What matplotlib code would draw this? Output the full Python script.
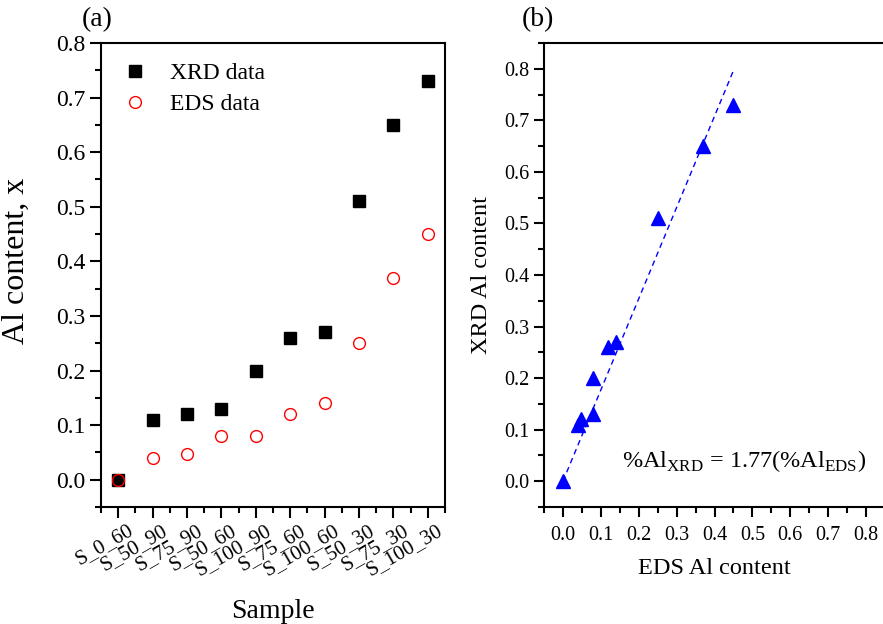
import matplotlib
matplotlib.use("Agg")
import matplotlib.pyplot as plt
import numpy as np
from matplotlib.ticker import MultipleLocator, FormatStrFormatter
from matplotlib.transforms import ScaledTranslation

plt.rcParams['font.family'] = ['Liberation Serif', 'DejaVu Serif']
plt.rcParams['mathtext.fontset'] = 'custom'
plt.rcParams['mathtext.rm'] = 'Liberation Serif'

samples = ["S_0_60", "S_50_90", "S_75_90", "S_50_60", "S_100_90",
           "S_75_60", "S_100_60", "S_50_30", "S_75_30", "S_100_30"]
xrd = [0.0, 0.11, 0.12, 0.13, 0.20, 0.26, 0.27, 0.51, 0.65, 0.73]
eds = [0.0, 0.04, 0.047, 0.08, 0.08, 0.12, 0.14, 0.25, 0.37, 0.45]
slope = 1.77
fit_x = [0.0, 0.45]

W, H = 883, 624
fig = plt.figure(figsize=(W/100, H/100), dpi=100)

def box(l, t, r, b):
    return [l/W, 1 - b/H, (r-l)/W, (b-t)/H]

# Panel (a)
ax1 = fig.add_axes(box(101, 43, 445, 507))
xi = np.arange(len(samples))
ax1.plot(xi, xrd, 's', color='black', markersize=8.5, label='XRD data', zorder=3)
ax1.plot(xi, eds, 'o', mfc='none', mec='red', markersize=8.5, mew=1.0, label='EDS data', zorder=4)
ax1.set_xlim(-0.5, 9.5)
ax1.set_ylim(-0.05, 0.8)
ax1.set_xticks(xi)
ax1.set_xticklabels(samples, rotation=30, ha='right', rotation_mode='anchor', fontsize=15)
ax1.xaxis.set_minor_locator(MultipleLocator(0.5))
ax1.yaxis.set_major_locator(MultipleLocator(0.1))
ax1.yaxis.set_minor_locator(MultipleLocator(0.05))
ax1.tick_params(axis='both', which='major', direction='out', length=8, width=1.5, labelsize=17)
ax1.tick_params(axis='x', which='major', labelsize=15, pad=2)
ax1.tick_params(axis='both', which='minor', direction='out', length=4, width=1.5)
ax1.yaxis.set_major_formatter(FormatStrFormatter('%.1f'))
for s in ax1.spines.values():
    s.set_linewidth(1.5)
ax1.set_ylabel('Al content, x', fontsize=23)
ax1.yaxis.set_label_coords(-0.205, 0.53)
ax1.set_xlabel('Sample', fontsize=20, labelpad=14)
leg = ax1.legend(loc='upper left', frameon=False, fontsize=17, handlelength=1.0,
                 handletextpad=1.0, bbox_to_anchor=(0.064, 0.958), borderaxespad=0,
                 borderpad=0, labelspacing=0.4)
fig.text(97/W, 1 - 20/H, '(a)', fontsize=20, ha='center', va='center')

# Panel (b)
ax2 = fig.add_axes(box(544, 43, 885, 507))
ax2.plot(eds, xrd, '^', color='blue', markersize=9.5, zorder=3)
fx = np.array(fit_x)
ax2.plot(fx, slope*fx, '--', color='blue', lw=1.0, dashes=(4, 3))
ax2.set_xlim(-0.05, 0.85)
ax2.set_ylim(-0.05, 0.85)
ax2.xaxis.set_minor_locator(MultipleLocator(0.05))
ax2.yaxis.set_minor_locator(MultipleLocator(0.05))
ax2.set_xticks(np.round(np.arange(0, 0.81, 0.1), 1))
ax2.set_yticks(np.round(np.arange(0, 0.81, 0.1), 1))
ax2.xaxis.set_major_formatter(FormatStrFormatter('%.1f'))
ax2.yaxis.set_major_formatter(FormatStrFormatter('%.1f'))
ax2.tick_params(axis='both', which='major', direction='out', length=7, width=1.5, labelsize=14.5)
ax2.tick_params(axis='x', which='major', pad=7)
ax2.tick_params(axis='both', which='minor', direction='out', length=4, width=1.5)
for s in ax2.spines.values():
    s.set_linewidth(1.5)
ax2.set_ylabel('XRD Al content', fontsize=17.5, labelpad=9)
ax2.set_xlabel('EDS Al content', fontsize=17.5, labelpad=9)
ax2.text(0.587, 0.10, r'%Al$_{\mathrm{XRD}}$ = 1.77(%Al$_{\mathrm{EDS}}$)', transform=ax2.transAxes,
         fontsize=17.5, ha='center', va='center')
fig.text(538/W, 1 - 20/H, '(b)', fontsize=20, ha='center', va='center')

fig.canvas.draw()
shift = ScaledTranslation(9/100, 0, fig.dpi_scale_trans)
for tick in ax1.xaxis.get_major_ticks():
    tick.label1.set_transform(tick.label1.get_transform() + shift)

fig.savefig('out.png', dpi=100)
